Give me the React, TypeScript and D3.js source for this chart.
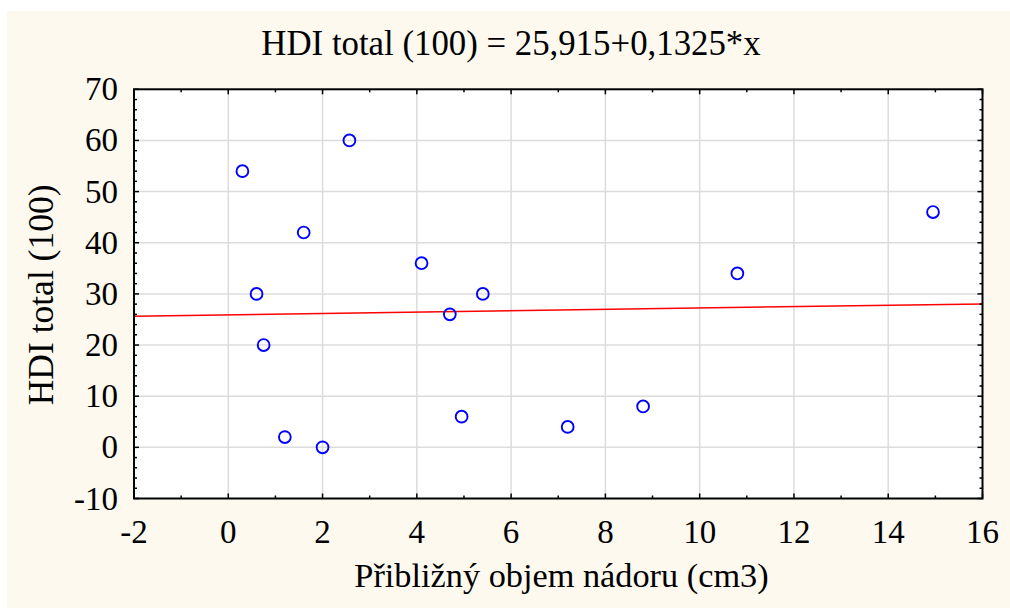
import React from "react";
import * as d3 from "d3";

const xValues = [0.3, 2.57, 0.6, 0.75, 1.6, 1.2, 2.0, 4.1, 4.7, 4.95, 5.4, 7.2, 8.8, 10.8, 14.95];
const yValues = [54, 60, 30, 20, 42, 2, 0, 36, 26, 6, 30, 4, 8, 34, 46];
const xTicks = [-2, 0, 2, 4, 6, 8, 10, 12, 14, 16];
const yTicks = [-10, 0, 10, 20, 30, 40, 50, 60, 70];
const intercept = 25.915;
const slope = 0.1325;
const title = "HDI total (100) = 25,915+0,1325*x";
const xLabel = "Přibližný objem nádoru (cm3)";
const yLabel = "HDI total (100)";

const W = 1010, H = 608;
const L = 134, R = 982.5, T = 89.3, B = 498.5;
const font = "Liberation Serif";

export default function App() {
  const x = d3.scaleLinear().domain([-2, 16]).range([L, R]);
  const y = d3.scaleLinear().domain([-10, 70]).range([B, T]);
  const xMinor = d3.range(-2, 16.01, 1).filter((v) => !xTicks.includes(v));
  const yMinor = d3.range(-10, 70.01, 2).filter((v) => !yTicks.includes(v));
  const line = d3.line<number>().x((d) => x(d)).y((d) => y(intercept + slope * d));
  return (
    <svg width={W} height={H} style={{ position: "absolute", left: 0, top: 0, fontFamily: font }}>
      <rect x={7} y={11} width={W - 7} height={H - 11} fill="#FDF9EF" />
      <rect x={L} y={T} width={R - L} height={B - T} fill="#fff" />
      <g stroke="#DCDCDC" strokeWidth={1.5}>
        {xTicks.slice(1, -1).map((t) => (
          <line key={"gx" + t} x1={x(t)} x2={x(t)} y1={T} y2={B} />
        ))}
        {yTicks.slice(1, -1).map((t) => (
          <line key={"gy" + t} x1={L} x2={R} y1={y(t)} y2={y(t)} />
        ))}
      </g>
      <path d={line([-2, 16]) || ""} stroke="#FF0000" strokeWidth={1.5} fill="none" />
      <g fill="none" stroke="#0000FF" strokeWidth={1.9}>
        {xValues.map((v, i) => (
          <circle key={i} cx={x(v)} cy={y(yValues[i])} r={5.9} />
        ))}
      </g>
      <g stroke="#000" strokeWidth={1.5}>
        {xTicks.map((t) => (
          <g key={"tx" + t}>
            <line x1={x(t)} x2={x(t)} y1={B} y2={B - 5} />
            <line x1={x(t)} x2={x(t)} y1={T} y2={T + 5} />
          </g>
        ))}
        {xMinor.map((t) => (
          <g key={"mx" + t}>
            <line x1={x(t)} x2={x(t)} y1={B} y2={B - 3} />
            <line x1={x(t)} x2={x(t)} y1={T} y2={T + 3} />
          </g>
        ))}
        {yTicks.map((t) => (
          <g key={"ty" + t}>
            <line x1={L} x2={L + 5} y1={y(t)} y2={y(t)} />
            <line x1={R} x2={R - 5} y1={y(t)} y2={y(t)} />
          </g>
        ))}
        {yMinor.map((t) => (
          <g key={"my" + t}>
            <line x1={L} x2={L + 3} y1={y(t)} y2={y(t)} />
            <line x1={R} x2={R - 3} y1={y(t)} y2={y(t)} />
          </g>
        ))}
      </g>
      <rect x={L} y={T} width={R - L} height={B - T} fill="none" stroke="#000" strokeWidth={2} />
      <g fontSize={33} fill="#000">
        {xTicks.map((t) => (
          <text key={"lx" + t} x={x(t)} y={543} textAnchor="middle">
            {t}
          </text>
        ))}
        {yTicks.map((t) => (
          <text key={"ly" + t} x={118} y={y(t) + 11} textAnchor="end">
            {t}
          </text>
        ))}
      </g>
      <text x={511} y={55} textAnchor="middle" fontSize={34.8}>
        {title}
      </text>
      <text x={561.5} y={587} textAnchor="middle" fontSize={34.3}>
        {xLabel}
      </text>
      <text
        transform={`translate(53, ${(T + B) / 2 + 1}) rotate(-90)`}
        textAnchor="middle"
        fontSize={35.5}
      >
        {yLabel}
      </text>
    </svg>
  );
}
